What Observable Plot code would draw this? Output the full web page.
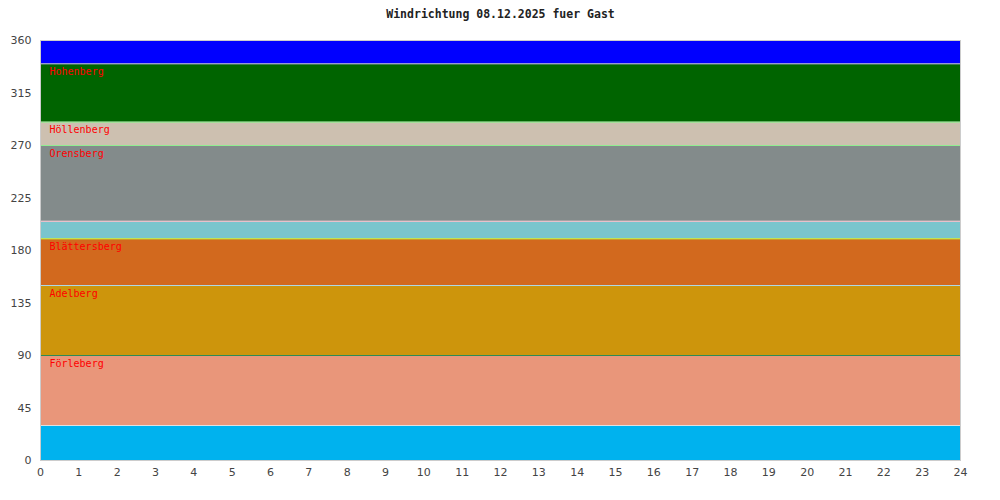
<!DOCTYPE html>
<html>
<head>
<meta charset="utf-8">
<script src="https://cdn.jsdelivr.net/npm/d3@7"></script>
<script src="https://cdn.jsdelivr.net/npm/@observablehq/plot@0.6"></script>
<style>
body { margin: 0; background: #fff; }
</style>
</head>
<body>
<div id="chart"></div>
<script>
const title = "Windrichtung 08.12.2025 fuer Gast";
const bandLow    = [0, 30, 90, 150, 190, 205, 270, 290, 340];
const bandHigh   = [30, 90, 150, 190, 205, 270, 290, 340, 360];
const bandColors = ["#00b2ee", "#e9967a", "#cd950c", "#d2691e", "#7ac5cd", "#838b8b", "#cdc0b0", "#006400", "#0000ff"];
const bandLabels = ["", "Förleberg", "Adelberg", "Blättersberg", "", "Orensberg", "Höllenberg", "Hohenberg", ""];
const lineValues = [30, 90, 150, 190, 205, 270, 290, 340];
const lineColors = ["#e0e0e0", "#2e8b57", "#add8e6", "#c0ff3e", "#ffc0cb", "#90ee90", "#90ee90", "#c8b4ff"];
const xTicks = d3.range(0, 25);
const yTicks = [0, 45, 90, 135, 180, 225, 270, 315, 360];
const hourStart = 0, hourEnd = 24;

const bands = bandLow.map((lo, i) => ({lo, hi: bandHigh[i], color: bandColors[i], label: bandLabels[i], x1: hourStart, x2: hourEnd}));
const lines = lineValues.map((v, i) => ({v, color: lineColors[i]}));

const chart = Plot.plot({
  width: 1000,
  height: 500,
  marginTop: 40,
  marginBottom: 40,
  marginLeft: 40,
  marginRight: 40,
  style: {fontFamily: "DejaVu Sans", fontSize: "11px", color: "#444", background: "#fff"},
  x: {domain: [hourStart, hourEnd], ticks: xTicks, tickSize: 0, tickPadding: 8, label: null, tickFormat: d => String(d)},
  y: {domain: [0, 360], ticks: yTicks, tickSize: 0, tickPadding: 9, label: null},
  marks: [
    Plot.rect(bands, {x1: "x1", x2: "x2", y1: "lo", y2: "hi", fill: d => d.color}),
    Plot.ruleY(lines, {y: "v", stroke: d => d.color, strokeWidth: 1}),
    Plot.text(bands.filter(d => d.label), {x: hourStart, y: "hi", text: "label", fill: "#ff0000", textAnchor: "start", dx: 9, dy: 8, fontFamily: "DejaVu Sans Mono", fontSize: 10}),
    Plot.frame({stroke: "#cccccc"}),
    Plot.text([title], {frameAnchor: "top", dy: -27, fill: "#222", fontFamily: "DejaVu Sans Mono", fontSize: 11.5, fontWeight: "bold"})
  ]
});
document.getElementById("chart").appendChild(chart);
// shift title up slightly
chart.querySelectorAll("text").forEach(t => { if (t.textContent === title) t.setAttribute("transform", (t.getAttribute("transform") || "") + " translate(0,-4)"); });
</script>
</body>
</html>
